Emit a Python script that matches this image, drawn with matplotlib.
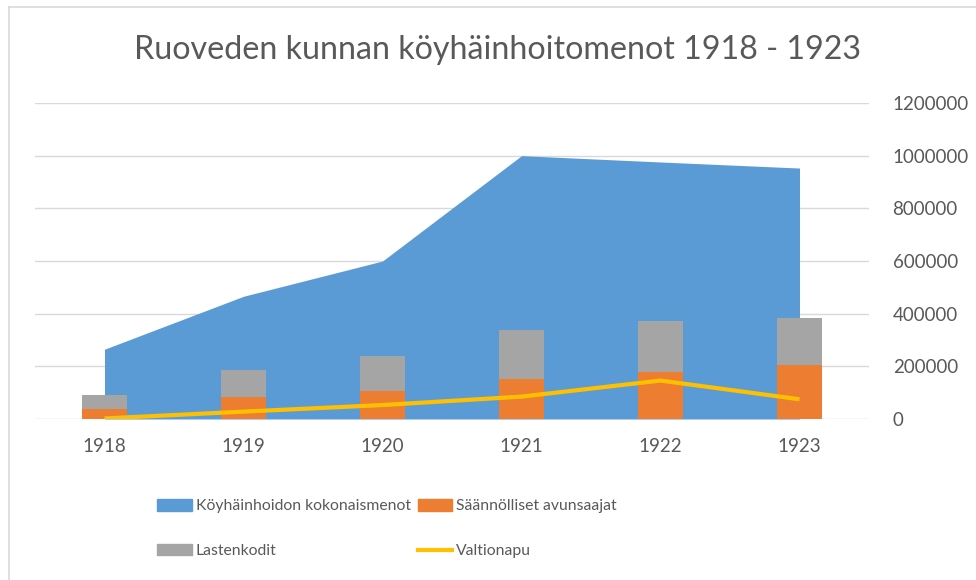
import matplotlib
matplotlib.use("Agg")
import matplotlib.pyplot as plt
from matplotlib.patches import Patch
from matplotlib.lines import Line2D
import numpy as np

years = ["1918", "1919", "1920", "1921", "1922", "1923"]
kokonaismenot = [265000, 466000, 600000, 1000000, 976000, 953000]
saannolliset = [37000, 85000, 108000, 151000, 178000, 206000]
lastenkodit = [55000, 102000, 132000, 186000, 193000, 178000]
valtionapu = [2000, 28000, 53000, 85000, 146000, 75000]
y_ticks = [0, 200000, 400000, 600000, 800000, 1000000, 1200000]

BLUE = "#5B9BD5"
ORANGE = "#ED7D31"
GRAY = "#A5A5A5"
YELLOW = "#FFC000"
TXT = "#595959"

plt.rcParams['font.family'] = ['Lato', 'DejaVu Sans']

fig = plt.figure(figsize=(9.76, 5.8), dpi=100)
# chart frame
fig.add_artist(Line2D([9/976, 9/976], [0, 1 - 7/580], color="#d9d9d9", lw=1.2, transform=fig.transFigure))
fig.add_artist(Line2D([9/976, 1], [1 - 7/580, 1 - 7/580], color="#d9d9d9", lw=1.2, transform=fig.transFigure))

ax = fig.add_axes([35/976, 1 - 419/580, (869 - 35)/976, (419 - 103)/580])
x = np.arange(len(years))

ax.fill_between(x, 0, kokonaismenot, color=BLUE, lw=0, zorder=2)
w = 0.32
ax.bar(x, saannolliset, width=w, color=ORANGE, zorder=3)
ax.bar(x, lastenkodit, width=w, bottom=saannolliset, color=GRAY, zorder=3)
ax.plot(x, valtionapu, color=YELLOW, lw=3, zorder=4, solid_capstyle='butt')

ax.set_xlim(-0.5, len(years) - 0.5)
ax.set_ylim(0, 1200000)
ax.set_xticks(x)
ax.set_xticklabels(years)
ax.set_yticks(y_ticks)
ax.set_yticklabels([str(v) for v in y_ticks])
ax.yaxis.tick_right()
ax.tick_params(axis='both', length=0, colors=TXT, labelsize=13.5)
ax.tick_params(axis='y', pad=17)
ax.tick_params(axis='x', pad=14)
ax.grid(axis='y', color="#d9d9d9", lw=1, zorder=0)
ax.set_axisbelow(True)
for s in ax.spines.values():
    s.set_visible(False)

fig.text(497/976, 1 - 50/580, "Ruoveden kunnan köyhäinhoitomenot 1918 - 1923",
         ha='center', va='center', fontsize=23.2, color=TXT)

handles = [Patch(color=BLUE, label="Köyhäinhoidon kokonaismenot"),
           Patch(color=GRAY, label="Lastenkodit"),
           Patch(color=ORANGE, label="Säännölliset avunsaajat"),
           Line2D([0], [0], color=YELLOW, lw=3, label="Valtionapu")]
leg = fig.legend(handles=handles, ncol=2, loc='upper left',
                 bbox_to_anchor=(143/976, 1 - 485/580), frameon=False,
                 fontsize=11.3, labelcolor=TXT, handlelength=2.2, handleheight=0.75,
                 handletextpad=0.25, columnspacing=0.45, labelspacing=1.95)

fig.savefig("out.png", dpi=100)
